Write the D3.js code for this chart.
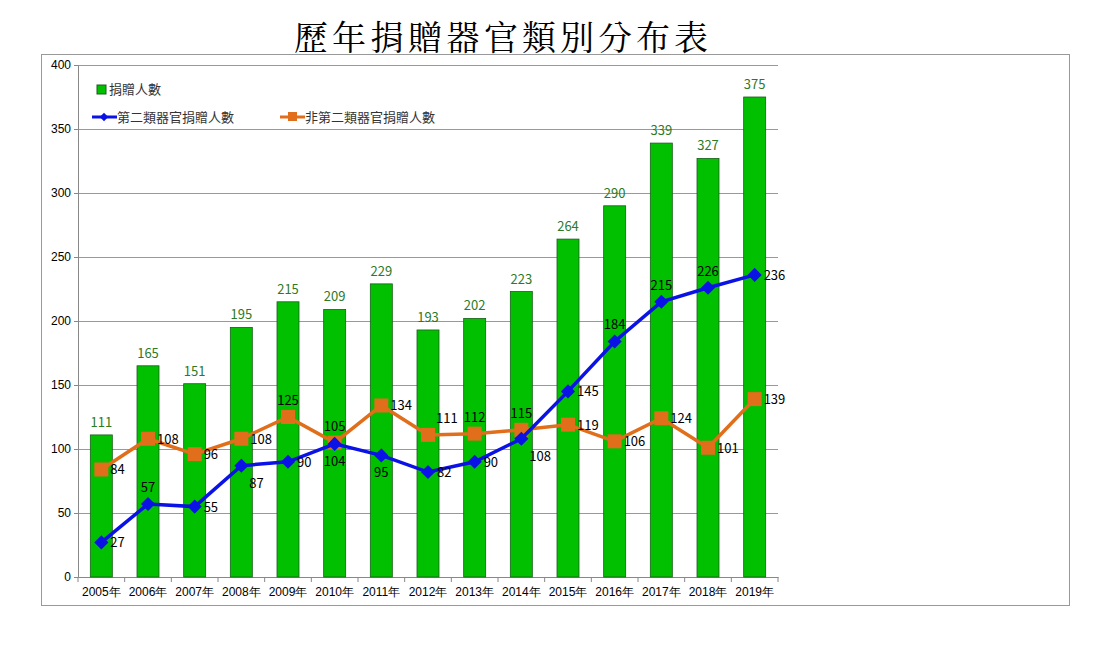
<!DOCTYPE html>
<html><head><meta charset="utf-8">
<script src="https://cdn.jsdelivr.net/npm/d3@7"></script>
<style>body{margin:0;background:#fff;font-family:"Noto Sans CJK TC","Noto Sans",sans-serif;}</style>
</head><body><div id="chart"></div>
<script>
const years = ["2005年","2006年","2007年","2008年","2009年","2010年","2011年","2012年","2013年","2014年","2015年","2016年","2017年","2018年","2019年"];
const total = [111,165,151,195,215,209,229,193,202,223,264,290,339,327,375];
const second = [27,57,55,87,90,104,95,82,90,108,145,184,215,226,236];
const nonSecond = [84,108,96,108,125,105,134,111,112,115,119,106,124,101,139];
const yTicks = [0,50,100,150,200,250,300,350,400];
// label placement per point
const secondPos = ["r","a","r","br","r","b","b","r","r","br","r","a","a","a","r"];
const nonSecondPos = ["r","r","r","r","a","a","r","ar","a","a","r","r","r","r","r"];

const svg = d3.select('#chart').append('svg').attr('width',1104).attr('height',649);

svg.append("rect").attr("x",41.5).attr("y",54.5).attr("width",1028).attr("height",551)
    .attr("fill","none").attr("stroke","#999");

svg.append("text").attr("x",503).attr("y",50).attr("text-anchor","middle")
    .style("font-size","34px").style("letter-spacing","4px").style("font-family","'Noto Serif CJK TC','Noto Sans CJK TC',serif")
    .text("歷年捐贈器官類別分布表");

const x = d3.scaleBand().domain(years).range([78,778]);
const y = d3.scaleLinear().domain([0,400]).range([577,65]);

const g = svg.append("g");
g.selectAll(".grid").data(yTicks.slice(1)).enter().append("line")
    .attr("x1",78).attr("x2",778).attr("y1",d=>y(d)+0.5).attr("y2",d=>y(d)+0.5).attr("stroke","#999");

g.append("g").attr("transform","translate(78,0)")
    .call(d3.axisLeft(y).tickValues(yTicks).tickSize(4))
    .call(a=>a.selectAll("text").style("font-size","12px").style("font-family","Liberation Sans,Arial").attr("fill","#000"))
    .call(a=>a.selectAll("line,path").attr("stroke","#888"));
g.append("g").attr("transform","translate(0,577)")
    .call(d3.axisBottom(x).tickSize(0).tickPadding(10))
    .call(a=>a.select("path").attr("stroke","#888"))
    .call(a=>a.selectAll("text").style("font-size","12px").attr("fill","#000"));
g.selectAll(".xt").data(years.concat(["end"])).enter().append("line")
    .attr("x1",(d,i)=>78+i*x.step()).attr("x2",(d,i)=>78+i*x.step())
    .attr("y1",577).attr("y2",582).attr("stroke","#888");

const bw = 22;
g.selectAll(".bar").data(total).enter().append("rect")
    .attr("x",(d,i)=>x(years[i])+x.bandwidth()/2-bw/2).attr("y",d=>y(d))
    .attr("width",bw).attr("height",d=>577-y(d))
    .attr("fill","#00c000").attr("stroke","#1a5e1a").attr("stroke-width",0.8);
g.selectAll(".bl").data(total).enter().append("text")
    .attr("x",(d,i)=>x(years[i])+x.bandwidth()/2).attr("y",d=>y(d)-8)
    .attr("text-anchor","middle").style("font-size","13px").attr("fill","#2d7a1f").text(d=>d);

const cx = i => x(years[i])+x.bandwidth()/2;
function series(vals, pos, color, shape){
    g.append("path").datum(vals)
        .attr("d",d3.line().x((d,i)=>cx(i)).y(d=>y(d)))
        .attr("fill","none").attr("stroke",color).attr("stroke-width",3.5);
    g.selectAll(null).data(vals).enter().append("path")
        .attr("transform",(d,i)=>`translate(${cx(i)},${y(d)})`+(shape==="d"?" rotate(45)":""))
        .attr("d",shape==="d"?"M-5,-5H5V5H-5Z":"M-7,-7H7V7H-7Z")
        .attr("fill",color);
    const off = {r:[9,5,"start"],a:[0,-12,"middle"],b:[0,22,"middle"],br:[8,22,"start"],ar:[8,-12,"start"]};
    g.selectAll(null).data(vals).enter().append("text")
        .attr("x",(d,i)=>cx(i)+off[pos[i]][0]).attr("y",(d,i)=>y(d)+off[pos[i]][1])
        .attr("text-anchor",(d,i)=>off[pos[i]][2])
        .style("font-size","13px").attr("fill","#000").text(d=>d);
}
series(nonSecond, nonSecondPos, "#e06e1a", "s");
series(second, secondPos, "#0a12e6", "d");

// legend
const lg = svg.append("g").style("font-size","13px");
lg.append("rect").attr("x",97).attr("y",85).attr("width",9).attr("height",9).attr("fill","#00c000").attr("stroke","#1a5e1a");
lg.append("text").attr("x",109).attr("y",94).attr("fill","#333").text("捐贈人數");
lg.append("line").attr("x1",92).attr("x2",117).attr("y1",117).attr("y2",117).attr("stroke","#0a12e6").attr("stroke-width",3);
lg.append("path").attr("transform","translate(104,117) rotate(45)").attr("d","M-3,-3H3V3H-3Z").attr("fill","#0a12e6");
lg.append("text").attr("x",117).attr("y",122).attr("fill","#333").text("第二類器官捐贈人數");
lg.append("line").attr("x1",280).attr("x2",305).attr("y1",117).attr("y2",117).attr("stroke","#e06e1a").attr("stroke-width",3);
lg.append("rect").attr("x",288).attr("y",112).attr("width",9).attr("height",9).attr("fill","#e06e1a");
lg.append("text").attr("x",305).attr("y",122).attr("fill","#333").text("非第二類器官捐贈人數");
</script></body></html>
